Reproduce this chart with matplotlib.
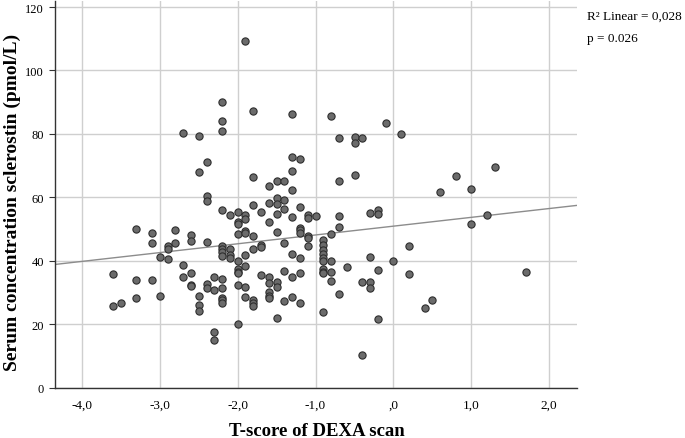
import matplotlib
matplotlib.use("Agg")
import matplotlib.pyplot as plt
import numpy as np

plt.rcParams['font.family'] = ['Liberation Serif', 'DejaVu Serif']

# T-score (x) and sclerostin (y)
t_score = [
    -3.6, -3.6, -3.5, -3.3, -3.3, -3.3, -3.1, -3.1, -3.1, -3.0, -3.0,
    -2.9, -2.9, -2.9, -2.8, -2.8, -2.7, -2.7, -2.7,
    -2.6, -2.6, -2.6, -2.6, -2.6,
    -2.5, -2.5, -2.5, -2.5, -2.5,
    -2.4, -2.4, -2.4, -2.4, -2.4, -2.4,
    -2.3, -2.3, -2.3, -2.3,
    -2.2, -2.2, -2.2, -2.2, -2.2, -2.2, -2.2, -2.2, -2.2, -2.2, -2.2, -2.2, -2.2,
    -2.1, -2.1, -2.1, -2.1,
    -2.0, -2.0, -2.0, -2.0, -2.0, -2.0, -2.0, -2.0, -2.0, -2.0,
    -1.9, -1.9, -1.9, -1.9, -1.9, -1.9, -1.9, -1.9, -1.9,
    -1.8, -1.8, -1.8, -1.8, -1.8, -1.8, -1.8, -1.8,
    -1.7, -1.7, -1.7, -1.7,
    -1.6, -1.6, -1.6, -1.6, -1.6, -1.6, -1.6, -1.6,
    -1.5, -1.5, -1.5, -1.5, -1.5, -1.5, -1.5, -1.5,
    -1.4, -1.4, -1.4, -1.4, -1.4, -1.4,
    -1.3, -1.3, -1.3, -1.3, -1.3, -1.3, -1.3, -1.3,
    -1.2, -1.2, -1.2, -1.2, -1.2, -1.2, -1.2, -1.2,
    -1.1, -1.1, -1.1, -1.1, -1.1,
    -1.0,
    -0.9, -0.9, -0.9, -0.9, -0.9, -0.9, -0.9, -0.9, -0.9, -0.9,
    -0.8, -0.8, -0.8, -0.8, -0.8,
    -0.7, -0.7, -0.7, -0.7, -0.7,
    -0.6,
    -0.5, -0.5, -0.5,
    -0.4, -0.4, -0.4,
    -0.3, -0.3, -0.3, -0.3,
    -0.2, -0.2, -0.2, -0.2,
    -0.1, 0.0, 0.1, 0.2, 0.2, 0.4, 0.5, 0.6, 0.8, 1.0, 1.0, 1.2, 1.3, 1.7,
]
sclerostin = [
    35.9, 25.8, 26.6, 50.0, 33.9, 28.3, 48.7, 45.7, 33.8, 41.2, 28.9,
    44.5, 43.7, 40.5, 49.6, 45.5, 80.4, 38.6, 34.8,
    48.2, 46.3, 36.2, 32.3, 31.9,
    79.2, 67.9, 29.0, 26.1, 24.0,
    71.2, 60.3, 58.9, 46.0, 32.7, 31.4,
    34.8, 30.7, 17.5, 15.0,
    90.0, 84.0, 81.0, 56.1, 44.7, 43.7, 42.6, 41.4, 34.3, 31.4, 28.3, 27.5, 26.6,
    54.5, 43.7, 41.9, 40.8,
    55.4, 52.1, 51.6, 48.3, 40.0, 37.4, 36.5, 36.1, 32.2, 20.1,
    109.2, 54.5, 53.2, 49.5, 48.7, 41.8, 38.4, 31.6, 28.5,
    87.2, 66.5, 57.5, 47.8, 43.7, 27.5, 26.8, 25.7,
    55.5, 45.0, 44.3, 35.5,
    63.7, 58.1, 52.1, 34.8, 32.9, 30.0, 29.0, 28.1,
    65.1, 59.7, 57.8, 54.8, 49.0, 33.4, 31.7, 21.8,
    65.0, 59.1, 56.3, 45.6, 36.8, 27.4,
    86.4, 72.8, 68.4, 62.2, 53.7, 42.1, 34.9, 28.6,
    72.1, 56.9, 50.4, 49.7, 48.7, 40.8, 36.1, 26.6,
    54.4, 53.6, 47.9, 47.1, 44.5,
    54.2,
    46.6, 45.0, 43.5, 42.2, 41.0, 40.0, 37.5, 36.5, 36.0, 23.7,
    85.7, 48.5, 39.8, 36.5, 33.6,
    78.8, 65.1, 54.0, 50.6, 29.6,
    37.9,
    79.0, 77.0, 67.0,
    78.8, 33.4, 10.3,
    55.0, 41.1, 33.4, 31.5,
    55.9, 54.8, 37.1, 21.6,
    83.3, 40.0, 80.0, 44.7, 35.9, 25.0, 27.5, 61.7, 66.7, 62.5, 51.6, 54.3, 69.7, 36.4,
]

# fit line as shown in the reference (R2 linear = 0.028)
fit_intercept = 50.9
fit_slope = 2.78

x_ticks = [-4, -3, -2, -1, 0, 1, 2]
x_tick_labels = ['-4,0', '-3,0', '-2,0', '-1,0', ',0', '1,0', '2,0']
y_ticks = [0, 20, 40, 60, 80, 100, 120]

fig = plt.figure(figsize=(6.85, 4.39), dpi=100)
ax = fig.add_axes([0.0803, 0.115, 0.762, 0.881])

ax.set_xlim(-4.345, 2.356)
ax.set_ylim(0, 122)

ax.grid(True, color='#cfcfcf', linewidth=1.0, zorder=0)
ax.set_axisbelow(True)

xs = np.array(ax.get_xlim())
ax.plot(xs, fit_intercept + fit_slope * xs, color='#8c8c8c', linewidth=1.0, zorder=2)

ax.scatter(t_score, sclerostin, s=27, facecolor='#6b6b6b', edgecolor='#2e2e2e',
           linewidths=0.8, zorder=3)

ax.set_xticks(x_ticks)
ax.set_xticklabels(x_tick_labels)
ax.set_yticks(y_ticks)
ax.tick_params(axis='x', length=0, pad=8, labelsize=9.5)
ax.tick_params(axis='y', length=4, width=0.8, color='#333333', pad=4, labelsize=9)

for side in ['top', 'right']:
    ax.spines[side].set_visible(False)
for side in ['left', 'bottom']:
    ax.spines[side].set_color('#333333')
    ax.spines[side].set_linewidth(1.0)

ax.set_xlabel('T-score of DEXA scan', fontsize=13.5, fontweight='bold')
ax.xaxis.set_label_coords(0.502, -0.09)
ax.set_ylabel('Serum concentration sclerostin (pmol/L)', fontsize=14,
              fontweight='bold')
ax.yaxis.set_label_coords(-0.066, 0.48)

fig.text(0.857, 0.962, 'R² Linear = 0,028', fontsize=9.5, va='center', ha='left')
fig.text(0.857, 0.912, 'p = 0.026', fontsize=9.5, va='center', ha='left')

fig.savefig('out.png', dpi=100)
